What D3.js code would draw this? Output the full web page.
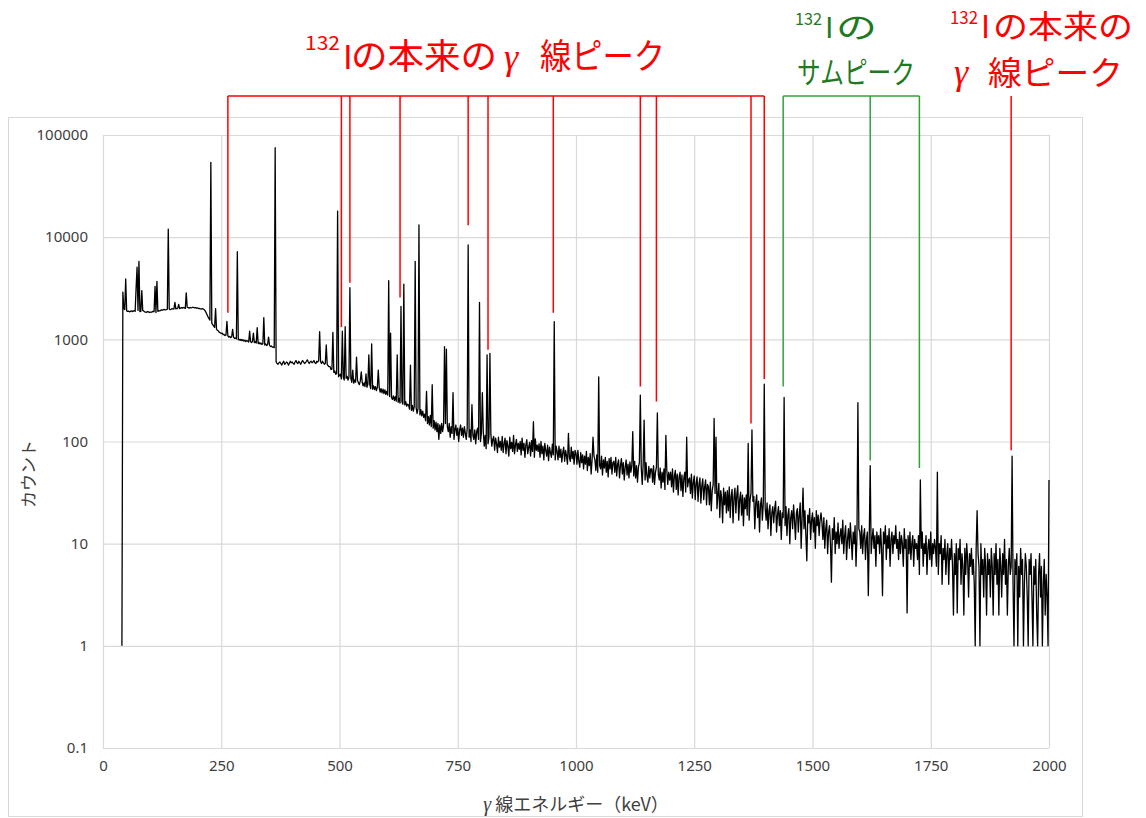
<!DOCTYPE html>
<html>
<head>
<meta charset="utf-8">
<script src="https://cdn.jsdelivr.net/npm/d3@7"></script>
<style>
  body { margin: 0; background: #fff; }
  svg { display: block; }
  text { font-family: "Noto Sans CJK JP", "Noto Sans", sans-serif; }
</style>
</head>
<body>
<svg id="chart" width="1146" height="818"></svg>
<script>
// ---- Spectrum data: counts per 2 keV channel, starting at 40 keV ----
const energyStart = 40;
const channelWidth = 2;
const continuum = [
  // 40-78 keV
  1, 1950, 2000, 1960, 1920, 1900, 1880, 1890, 1860, 1880, 1900, 1870, 1890, 1910, 1880, 1860, 1900, 1920, 1890, 1870,
  // 80-118
  1880, 1900, 1920, 1890, 1860, 1850, 1840, 1870, 1860, 1830, 1850, 1840, 1860, 1880, 1870, 1850, 1830, 1860, 1880, 1900,
  // 120-158
  1900, 1920, 1940, 1930, 1950, 1960, 1940, 1950, 1970, 1960, 1980, 1950, 1970, 2000, 1980, 1990, 2010, 1990, 2000, 2020,
  // 160-198
  2030, 2000, 2020, 2040, 2020, 2050, 2030, 2010, 2040, 2060, 2040, 2020, 2050, 2030, 2040, 2060, 2050, 2030, 2040, 2020,
  // 200-238
  2030, 2000, 2010, 1990, 1980, 2000, 1980, 1950, 1900, 1820, 1740, 1660, 1600, 1540, 1480, 1430, 1390, 1350, 1310, 1290,
  // 240-278
  1260, 1220, 1210, 1170, 1160, 1140, 1150, 1110, 1120, 1090, 1100, 1070, 1080, 1050, 1070, 1040, 1060, 1030, 1050, 1020,
  // 280-318
  1030, 1010, 1020, 990, 1000, 980, 1000, 970, 990, 960, 980, 950, 970, 960, 940, 960, 950, 930, 950, 940,
  // 320-358
  930, 950, 920, 940, 910, 930, 900, 920, 890, 910, 900, 880, 900, 870, 890, 860, 880, 850, 860, 840,
  // 360-398
  840, 830, 800, 600, 580, 570, 590, 600, 580, 560, 590, 610, 570, 580, 600, 590, 560, 580, 610, 590,
  // 400-438
  600, 580, 570, 600, 620, 590, 580, 610, 590, 570, 600, 620, 600, 580, 590, 610, 630, 600, 580, 600,
  // 440-478
  610, 590, 600, 620, 590, 580, 610, 600, 620, 590, 600, 580, 610, 590, 570, 580, 560, 570, 550, 540,
  // 480-518
  540, 505, 510, 480, 475, 490, 455, 460, 475, 430, 445, 455, 410, 450, 425, 400, 445, 415, 435, 400,
  // 520-558
  425, 395, 415, 380, 405, 372, 400, 380, 365, 398, 375, 360, 392, 358, 380, 350, 375, 345, 370, 340,
  // 560-598
  365, 338, 360, 330, 355, 325, 350, 322, 345, 315, 340, 312, 335, 305, 330, 300, 325, 295, 320, 290,
  // 600-638
  310, 285, 305, 275, 282, 270, 258, 280, 252, 275, 248, 270, 242, 265, 238, 260, 245, 232, 255, 228,
  // 640-678
  245, 222, 232, 228, 208, 232, 202, 226, 198, 220, 192, 215, 188, 210, 196, 182, 205, 178, 198, 172,
  // 680-718
  185, 160, 190, 150, 175, 145, 180, 140, 170, 135, 160, 130, 155, 125, 150, 105, 145, 120, 150, 125,
  // 720-758
  145, 120, 150, 115, 140, 125, 150, 110, 140, 120, 135, 105, 130, 145, 115, 135, 100, 130, 145, 115,
  // 760-798
  135, 110, 140, 120, 105, 135, 145, 110, 130, 100, 135, 115, 105, 130, 95, 125, 135, 105, 130, 100,
  // 800-838
  120, 95, 125, 90, 115, 85, 120, 95, 110, 80, 118, 90, 105, 112, 82, 108, 95, 78, 110, 88,
  // 840-878
  100, 82, 112, 78, 95, 108, 76, 102, 90, 72, 110, 85, 98, 80, 115, 76, 92, 105, 80, 96,
  // 880-918
  84, 100, 74, 108, 82, 96, 70, 92, 104, 76, 88, 98, 72, 102, 80, 94, 70, 106, 82, 92,
  // 920-958
  80, 95, 70, 100, 76, 90, 66, 96, 82, 72, 92, 65, 88, 78, 70, 94, 74, 86, 66, 90,
  // 960-998
  80, 66, 90, 70, 84, 63, 78, 88, 64, 82, 72, 60, 86, 70, 64, 88, 68, 80, 60, 82,
  // 1000-1038
  76, 60, 82, 64, 56, 78, 62, 74, 54, 72, 60, 80, 52, 70, 58, 76, 48, 66, 56, 72,
  // 1040-1078
  66, 52, 74, 50, 68, 58, 54, 72, 47, 66, 55, 70, 50, 64, 45, 68, 54, 70, 48, 62,
  // 1080-1118
  64, 50, 70, 46, 60, 66, 44, 58, 68, 48, 62, 42, 56, 66, 47, 60, 44, 63, 50, 58,
  // 1120-1158
  60, 46, 64, 44, 58, 40, 56, 62, 43, 55, 38, 60, 48, 42, 62, 46, 40, 57, 44, 54,
  // 1160-1198
  54, 40, 58, 38, 50, 56, 36, 48, 42, 55, 35, 50, 40, 54, 34, 46, 52, 38, 50, 42,
  // 1200-1238
  50, 36, 54, 32, 46, 52, 34, 48, 30, 45, 50, 33, 47, 29, 44, 50, 32, 46, 36, 42,
  // 1240-1278
  44, 31, 48, 28, 40, 46, 27, 39, 45, 26, 38, 44, 25, 37, 43, 27, 36, 42, 24, 38,
  // 1280-1318
  36, 24, 40, 21, 33, 38, 19, 31, 37, 22, 30, 39, 18, 33, 28, 16, 35, 24, 32, 20,
  // 1320-1358
  33, 21, 36, 18, 29, 34, 16, 28, 35, 20, 30, 37, 17, 27, 32, 19, 30, 15, 28, 22,
  // 1360-1398
  30, 19, 33, 17, 27, 31, 16, 26, 29, 14, 25, 30, 18, 26, 13, 24, 28, 17, 25, 19,
  // 1400-1438
  22, 17, 25, 14, 21, 24, 12, 20, 23, 16, 22, 26, 13, 19, 23, 15, 21, 11, 20, 18,
  // 1440-1478
  20, 15, 23, 12, 19, 22, 10, 18, 21, 14, 24, 17, 11, 20, 22, 13, 19, 25, 9, 18,
  // 1480-1518
  18, 14, 21, 12, 6.8, 19, 16, 22, 11, 17, 20, 13, 18, 9, 21, 15, 19, 12, 17, 20,
  // 1520-1558
  16, 11, 18, 9, 14, 17, 8, 13, 15, 10, 4.2, 14, 11, 18, 8, 13, 10, 16, 9, 12,
  // 1560-1598
  14, 10, 17, 8, 12, 15, 7, 11, 14, 9, 16, 11, 7, 13, 10, 15, 6, 12, 10, 14,
  // 1600-1638
  13, 9, 15, 8, 12, 14, 7, 11, 13, 3.1, 12, 16, 8, 11, 14, 9, 12, 6, 13, 10,
  // 1640-1678
  12, 8, 14, 9, 3.1, 13, 10, 15, 7, 12, 9, 14, 6, 11, 13, 8, 12, 10, 15, 9,
  // 1680-1718
  11, 7, 13, 8, 12, 10, 6, 14, 9, 11, 2.1, 12, 8, 13, 7, 10, 12, 6, 11, 9,
  // 1720-1758
  10, 7, 12, 5, 11, 9, 13, 6, 10, 8, 12, 5, 9, 11, 7, 13, 6, 10, 8, 11,
  // 1760-1798
  9, 6, 11, 5, 10, 8, 12, 4, 9, 7, 11, 5, 8, 10, 4, 9, 7, 11, 6, 2,
  // 1800-1838
  8, 5, 10, 2.1, 9, 7, 11, 4, 8, 6, 2, 9, 5, 10, 7, 3, 8, 6, 9, 5,
  // 1840-1878
  7, 4, 1, 9, 5, 8, 6, 1, 10, 5, 7, 3, 9, 6, 2, 8, 5, 7, 3, 9,
  // 1880-1918
  6, 2, 8, 5, 10, 4, 7, 2, 9, 6, 3, 8, 5, 11, 4, 7, 2, 6, 9, 5,
  // 1920-1958
  6, 9, 4, 1, 7, 5, 8, 1, 6, 3, 9, 5, 7, 1, 4, 8, 6, 3, 1, 7,
  // 1960-1998
  5, 8, 3, 1, 6, 4, 7, 2, 1, 5, 8, 3, 6, 1, 4, 7, 2, 5, 3, 1,
  // 2000
  5
];

// Photopeak tops: [energy keV, counts]
const peaks = [
  [42, 2900], [48, 3900], [70, 3200], [72, 5100], [76, 5800], [82, 3000], [110, 3300], [114, 3700],
  [138, 12000], [152, 2300], [160, 2200], [176, 2850], [228, 54000], [238, 2000], [262, 1500], [274, 1250],
  [284, 7200], [310, 1200], [318, 1150], [326, 1300], [340, 1630], [350, 1050], [364, 75000],
  [458, 1190], [472, 880], [486, 1170], [496, 18000], [506, 1200], [512, 1330], [522, 3200], [528, 500],
  [536, 670], [546, 480], [556, 460], [562, 705], [568, 900], [582, 500], [604, 3750], [608, 1150],
  [622, 705], [630, 2100], [636, 3460], [650, 560], [660, 5800], [668, 13200], [684, 310], [696, 360],
  [722, 850], [726, 800], [740, 300], [772, 8400], [780, 230], [796, 2300], [802, 300], [812, 705],
  [818, 730], [910, 156], [954, 1490], [984, 120], [1036, 110], [1048, 430], [1120, 125], [1136, 285],
  [1144, 162], [1172, 190], [1190, 115], [1234, 110], [1292, 168], [1296, 110], [1364, 96], [1372, 130],
  [1398, 365], [1440, 270], [1480, 35], [1596, 240], [1622, 58], [1728, 42], [1764, 50], [1848, 21],
  [1922, 72], [2000, 42]
];

// Axis ticks
const xTicks = [0, 250, 500, 750, 1000, 1250, 1500, 1750, 2000];
const yTicks = [0.1, 1, 10, 100, 1000, 10000, 100000];
const yTickLabels = ["0.1", "1", "10", "100", "1000", "10000", "100000"];

// Marker lines: [energy keV, counts where the marker stops]
const i132Lines = [[264, 1825], [504, 1320], [522, 3570], [628, 2560], [772, 13100], [814, 790],
                   [952, 1820], [1136, 345], [1170, 246], [1370, 150], [1398, 410]];
const sumPeakLines = [[1438, 345], [1622, 65], [1726, 55]];
const i132HighLines = [[1920, 82]];

// ---- Build channel table ----
const spectrum = continuum.map((c, i) => ({ e: energyStart + i * channelWidth, c }));
peaks.forEach(([e, c]) => {
  const idx = Math.round((e - energyStart) / channelWidth);
  if (spectrum[idx]) spectrum[idx].c = Math.max(spectrum[idx].c, c);
});

// ---- Layout ----
const svg = d3.select("#chart");
const plot = { left: 103, right: 1049, top: 135, bottom: 748 };
const x = d3.scaleLinear().domain([0, 2000]).range([plot.left, plot.right]);
const y = d3.scaleLog().domain([0.1, 100000]).range([plot.bottom, plot.top]);

const RED = "#ff0000", GREEN_TEXT = "#1f7a1f", GREEN_LINE = "#35a035";
const GRID = "#d9d9d9";

// chart frame
svg.append("rect")
  .attr("x", 8.5).attr("y", 117.5).attr("width", 1074).attr("height", 699)
  .attr("fill", "#fff").attr("stroke", GRID).attr("stroke-width", 1);

// y axis with gridlines
const yAxis = svg.append("g")
  .attr("transform", `translate(${plot.left},0)`)
  .call(d3.axisLeft(y).tickValues(yTicks).tickFormat((d, i) => yTickLabels[i])
    .tickSize(-(plot.right - plot.left)).tickPadding(15));
yAxis.select(".domain").remove();
yAxis.selectAll(".tick line").attr("stroke", GRID).attr("stroke-width", 1.2);
yAxis.selectAll(".tick text").attr("fill", "#404040").style("font-size", "15px")
  .style("font-family", "'Noto Sans', sans-serif");

// x axis with gridlines
const xAxis = svg.append("g")
  .attr("transform", `translate(0,${plot.bottom})`)
  .call(d3.axisBottom(x).tickValues(xTicks).tickFormat(d3.format("d"))
    .tickSize(-(plot.bottom - plot.top)).tickPadding(12));
xAxis.select(".domain").remove();
xAxis.selectAll(".tick line").attr("stroke", GRID).attr("stroke-width", 1.2);
xAxis.selectAll(".tick text").attr("fill", "#404040").style("font-size", "15px")
  .style("font-family", "'Noto Sans', sans-serif");

// axis titles
const xTitle = svg.append("text")
  .attr("x", 576).attr("y", 811).attr("text-anchor", "middle")
  .attr("fill", "#404040").style("font-size", "18px");
xTitle.append("tspan").style("font-family", "'Liberation Serif', serif")
  .style("font-style", "italic").style("font-size", "20px").text("γ");
xTitle.append("tspan").text(" 線エネルギー（keV）");

svg.append("text")
  .attr("transform", "translate(35,474) rotate(-90)")
  .attr("text-anchor", "middle").attr("fill", "#404040")
  .style("font-size", "17px").text("カウント");

// spectrum trace
const line = d3.line().x(d => x(d.e)).y(d => y(d.c));
svg.append("path")
  .datum(spectrum)
  .attr("d", line)
  .attr("fill", "none")
  .attr("stroke", "#000")
  .attr("stroke-width", 1.3)
  .attr("stroke-linejoin", "round");

// ---- Marker brackets ----
const bracketY = plot.top - 39;
function drawMarkers(list, color, withBar) {
  const g = svg.append("g").attr("stroke", color).attr("stroke-width", 1.5).attr("fill", "none");
  g.selectAll("line.m").data(list).join("line")
    .attr("x1", d => x(d[0])).attr("x2", d => x(d[0]))
    .attr("y1", bracketY).attr("y2", d => y(d[1]));
  if (withBar) {
    g.append("line")
      .attr("x1", x(list[0][0])).attr("x2", x(list[list.length - 1][0]))
      .attr("y1", bracketY).attr("y2", bracketY);
  }
}
drawMarkers(i132Lines, RED, true);
drawMarkers(sumPeakLines, GREEN_LINE, true);
drawMarkers(i132HighLines, RED, false);

// ---- Annotation labels ----
function drawLabel(pieces, color) {
  pieces.forEach(p => {
    const t = svg.append("text")
      .attr("x", p.x).attr("y", p.y).attr("fill", color)
      .style("font-size", p.size + "px")
      .text(p.t);
    if (p.serif) t.style("font-family", "'Liberation Serif', 'DejaVu Serif', serif").style("font-style", "italic");
    if (p.w) t.attr("textLength", p.w).attr("lengthAdjust", "spacingAndGlyphs");
  });
}

drawLabel([
  { t: "132", x: 305, y: 50, size: 19, w: 35 },
  { t: "I", x: 343, y: 69, size: 33 },
  { t: "の本来の", x: 351, y: 69, size: 35, w: 146 },
  { t: "γ", x: 504, y: 69, size: 36, serif: true },
  { t: "線ピーク", x: 540, y: 69, size: 35, w: 125 }
], RED);

drawLabel([
  { t: "132", x: 795, y: 25, size: 17, w: 27 },
  { t: "I", x: 825, y: 38, size: 29 },
  { t: "の", x: 836, y: 38, size: 30, w: 41 },
  { t: "サムピーク", x: 797, y: 83, size: 30, w: 118 }
], GREEN_TEXT);

drawLabel([
  { t: "132", x: 950, y: 24, size: 18, w: 28 },
  { t: "I", x: 981, y: 38, size: 31 },
  { t: "の本来の", x: 993, y: 38, size: 32, w: 140 },
  { t: "γ", x: 954, y: 84, size: 36, serif: true },
  { t: "線ピーク", x: 988, y: 85, size: 33, w: 135 }
], RED);
</script>
</body>
</html>
